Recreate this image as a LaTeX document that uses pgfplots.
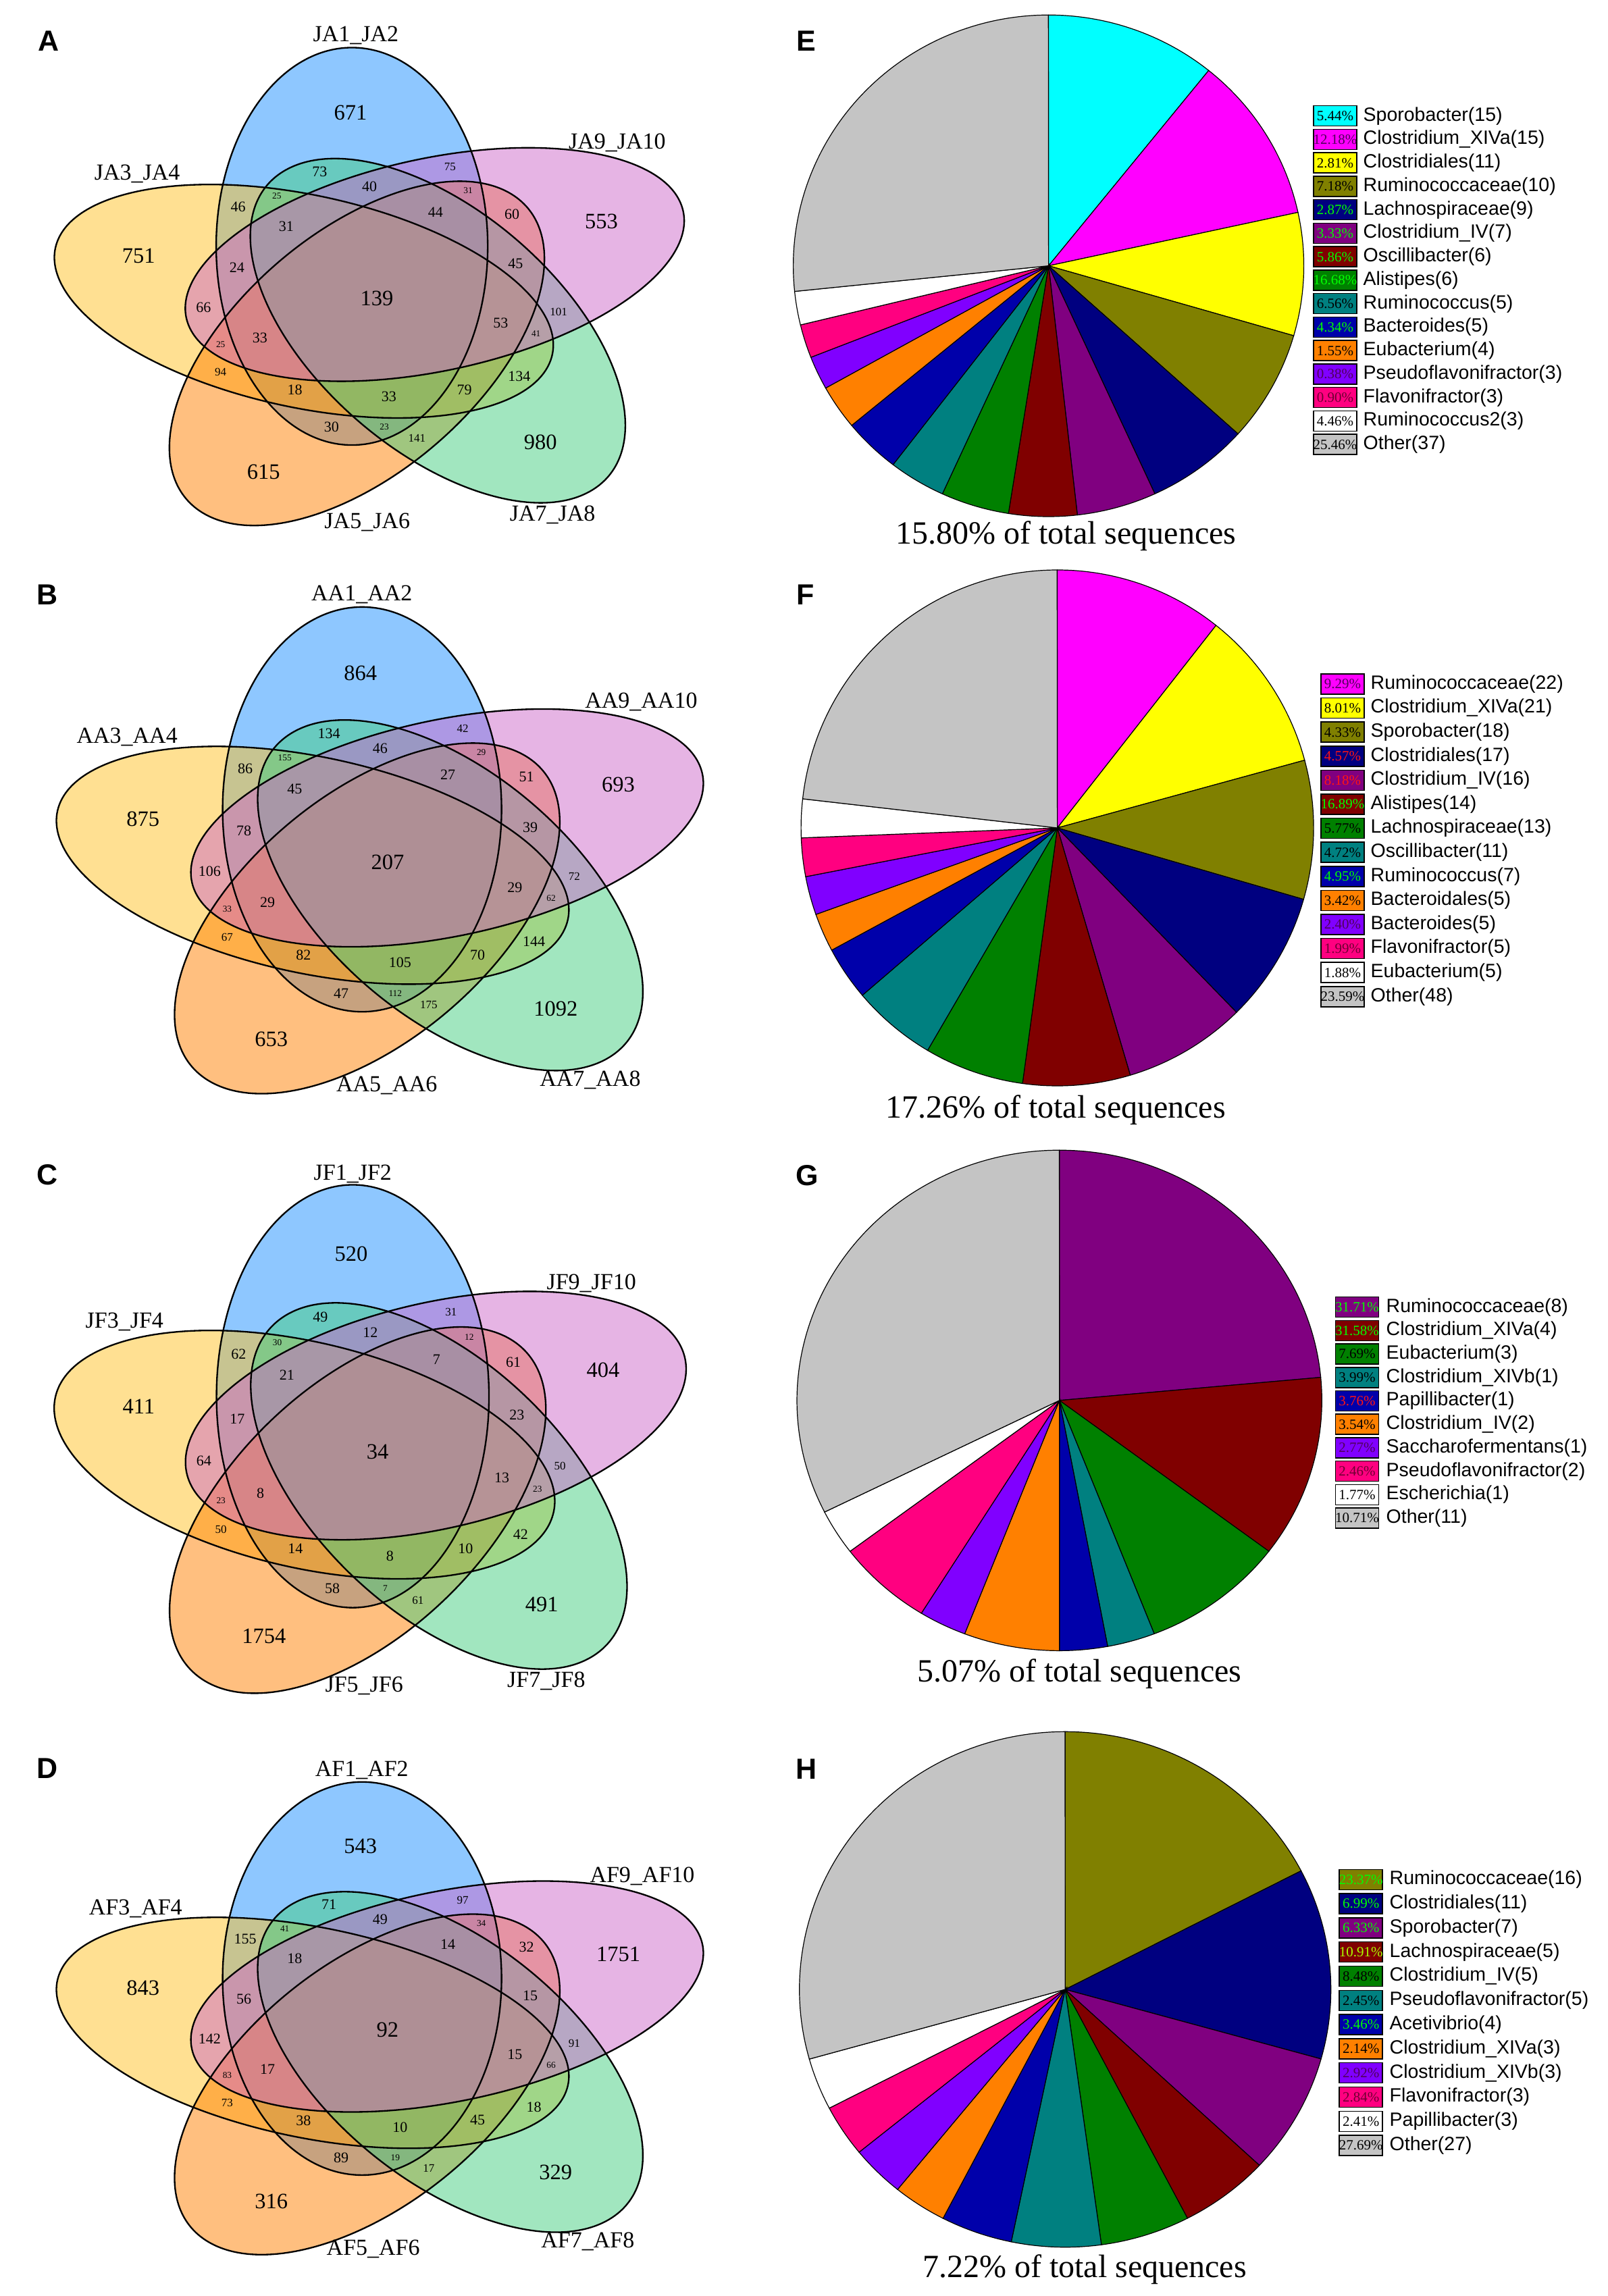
\documentclass[border=0pt]{standalone}
\usepackage{pgfplots}
\usepackage{pgfplotstable}
\pgfplotsset{compat=1.18}
\usepackage{fontspec}
\setmainfont{Liberation Serif}
\newfontfamily\arialfont{Liberation Sans}

\definecolor{vblue}{RGB}{30,144,255}
\definecolor{vyellow}{RGB}{255,193,37}
\definecolor{vorange}{RGB}{255,127,0}
\definecolor{vgreen}{RGB}{67,205,128}
\definecolor{vpink}{RGB}{205,105,201}

\definecolor{pcyan}{RGB}{0,255,255}
\definecolor{pmag}{RGB}{255,0,255}
\definecolor{pyel}{RGB}{255,255,0}
\definecolor{polive}{RGB}{128,128,0}
\definecolor{pnavy}{RGB}{0,0,128}
\definecolor{ppurple}{RGB}{128,0,128}
\definecolor{pmaroon}{RGB}{128,0,0}
\definecolor{pgreen}{RGB}{0,128,0}
\definecolor{pteal}{RGB}{0,128,128}
\definecolor{pblue}{RGB}{0,0,170}
\definecolor{porange}{RGB}{255,128,0}
\definecolor{pviolet}{RGB}{128,0,255}
\definecolor{ppink}{RGB}{255,0,128}
\definecolor{pwhite}{RGB}{255,255,255}
\definecolor{pgray}{RGB}{196,196,196}
\definecolor{tlime}{RGB}{0,255,0}
\definecolor{tred}{RGB}{255,20,20}
\definecolor{tdpur}{RGB}{80,0,90}
\definecolor{tdred}{RGB}{110,0,50}
\definecolor{tyg}{RGB}{170,255,0}
\definecolor{tblack}{RGB}{0,0,0}

% ---------------- Venn region counts (unit positions, font size in pt) ----------------
\pgfplotstableread{
u      v      fs    A    B    C    D
-0.103 -0.939 9.75  671  864  520  543
0.868  -0.390 9.75  553  693  404  1751
0.632  0.719  9.75  980  1092 491  329
-0.439 0.869  9.75  615  653  1754 316
-0.922 -0.219 9.75  751  875  411  843
-0.001 -0.004 9.75  139  207  34   92
-0.222 -0.642 6.6   73   134  49   71
0.282  -0.665 5.1   75   42   31   97
-0.029 -0.567 6.6   40   46   12   49
0.352  -0.547 4.0   31   29   12   34
-0.537 -0.466 6.6   46   86   62   155
-0.388 -0.520 4.0   25   155  30   41
0.226  -0.439 6.6   44   27   7    14
0.522  -0.426 6.6   60   51   61   32
-0.351 -0.367 6.6   31   45   21   18
-0.542 -0.160 6.6   24   78   17   56
0.536  -0.178 6.6   45   39   23   15
-0.671 0.041  6.6   66   106  64   142
0.702  0.065  5.1   101  72   50   91
0.478  0.119  6.6   53   29   13   15
0.615  0.173  4.0   41   62   23   66
-0.605 0.227  4.0   25   33   23   83
-0.453 0.194  6.6   33   29   8    17
-0.605 0.365  5.1   94   67   50   73
0.550  0.388  6.6   134  144  42   18
-0.318 0.455  6.6   18   82   14   38
0.046  0.491  6.6   33   105  8    10
0.338  0.455  6.6   79   70   10   45
-0.176 0.644  6.6   30   47   58   89
0.028  0.644  4.0   23   112  7    19
0.154  0.698  5.1   141  175  61   17
}\vennpos

% ---------------- Pie tables ----------------
\pgfplotstableread{
n  col     tc     pct   name
15 pcyan   tblack 5.44  Sporobacter
15 pmag    tdpur  12.18 Clostridium\_XIVa
11 pyel    tblack 2.81  Clostridiales
10 polive  tblack 7.18  Ruminococcaceae
9  pnavy   tlime  2.87  Lachnospiraceae
7  ppurple tlime  3.33  Clostridium\_IV
6  pmaroon tlime  5.86  Oscillibacter
6  pgreen  tlime  16.68 Alistipes
5  pteal   tblack 6.56  Ruminococcus
5  pblue   tlime  4.34  Bacteroides
4  porange tblack 1.55  Eubacterium
3  pviolet tdpur  0.38  Pseudoflavonifractor
3  ppink   tdred  0.90  Flavonifractor
3  pwhite  tblack 4.46  Ruminococcus2
37 pgray   tblack 25.46 Other
}\pieE
\pgfplotstableread{
n  col     tc     pct   name
22 pmag    tdpur  9.29  Ruminococcaceae
21 pyel    tblack 8.01  Clostridium\_XIVa
18 polive  tblack 4.33  Sporobacter
17 pnavy   tred   4.57  Clostridiales
16 ppurple tred   8.18  Clostridium\_IV
14 pmaroon tlime  16.89 Alistipes
13 pgreen  tblack 5.77  Lachnospiraceae
11 pteal   tblack 4.72  Oscillibacter
7  pblue   tlime  4.95  Ruminococcus
5  porange tblack 3.42  Bacteroidales
5  pviolet tdpur  2.40  Bacteroides
5  ppink   tdred  1.99  Flavonifractor
5  pwhite  tblack 1.88  Eubacterium
48 pgray   tblack 23.59 Other
}\pieF
\pgfplotstableread{
n  col     tc     pct   name
8  ppurple tlime  31.71 Ruminococcaceae
4  pmaroon tlime  31.58 Clostridium\_XIVa
3  pgreen  tblack 7.69  Eubacterium
1  pteal   tblack 3.99  Clostridium\_XIVb
1  pblue   tred   3.76  Papillibacter
2  porange tblack 3.54  Clostridium\_IV
1  pviolet tdpur  2.77  Saccharofermentans
2  ppink   tdred  2.46  Pseudoflavonifractor
1  pwhite  tblack 1.77  Escherichia
11 pgray   tblack 10.71 Other
}\pieG
\pgfplotstableread{
n  col     tc     pct   name
16 polive  tlime  23.37 Ruminococcaceae
11 pnavy   tlime  6.99  Clostridiales
7  ppurple tlime  6.33  Sporobacter
5  pmaroon tyg    10.91 Lachnospiraceae
5  pgreen  tblack 8.48  Clostridium\_IV
5  pteal   tblack 2.45  Pseudoflavonifractor
4  pblue   tlime  3.46  Acetivibrio
3  porange tblack 2.14  Clostridium\_XIVa
3  pviolet tdpur  2.92  Clostridium\_XIVb
3  ppink   tdred  2.84  Flavonifractor
3  pwhite  tblack 2.41  Papillibacter
27 pgray   tblack 27.69 Other
}\pieH

% ---------------- helpers ----------------
\tikzset{
  panelletter/.style={font={\arialfont\bfseries\fontsize{12.9}{13}\selectfont}, inner sep=0pt},
  vlab/.style={font={\fontsize{10.2}{10.2}\selectfont}, inner sep=0pt},
  piecap/.style={font={\fontsize{14.4}{14.4}\selectfont}, inner sep=0pt},
}
\pgfplotsset{
  venn/.style={anchor=south west, hide axis, clip=false, y dir=reverse,
     xmin=-1.4, xmax=1.4, ymin=-1.45, ymax=1.3},
  pie/.style={anchor=south west, hide axis, clip=false, x=0.3pt, y=0.3pt,
     xmin=-420, xmax=840, ymin=-460, ymax=420},
}
\newcommand\vellipse[4]{%
  \path[#4, shift={(axis cs:#1,#2)}, xscale=\XU, yscale=\YU, rotate=-#3]
     (0pt,0pt) ellipse [x radius=0.5252pt, y radius=1pt];}
\newcommand\vennshapes{%
  \vellipse{-0.0971}{-0.2662}{0}{fill=vblue,fill opacity=0.5}%
  \vellipse{-0.28318}{0.01009}{288}{fill=vyellow,fill opacity=0.5}%
  \vellipse{-0.07791}{0.27243}{216}{fill=vorange,fill opacity=0.5}%
  \vellipse{0.23503}{0.15829}{144}{fill=vgreen,fill opacity=0.5}%
  \vellipse{0.22316}{-0.17461}{72}{fill=vpink,fill opacity=0.5}%
  \vellipse{-0.0971}{-0.2662}{0}{draw=black,line width=0.7pt}%
  \vellipse{-0.28318}{0.01009}{288}{draw=black,line width=0.7pt}%
  \vellipse{-0.07791}{0.27243}{216}{draw=black,line width=0.7pt}%
  \vellipse{0.23503}{0.15829}{144}{draw=black,line width=0.7pt}%
  \vellipse{0.22316}{-0.17461}{72}{draw=black,line width=0.7pt}%
}
\newcommand\vennnumbers[1]{%
  \pgfplotsextra{%
    \pgfplotstablegetrowsof{\vennpos}\pgfmathtruncatemacro\lastrow{\pgfplotsretval-1}%
    \foreach \i in {0,...,\lastrow}{%
      \pgfplotstablegetelem{\i}{u}\of{\vennpos}\let\vuu\pgfplotsretval
      \pgfplotstablegetelem{\i}{v}\of{\vennpos}\let\vvv\pgfplotsretval
      \pgfplotstablegetelem{\i}{fs}\of{\vennpos}\let\vfs\pgfplotsretval
      \pgfplotstablegetelem{\i}{#1}\of{\vennpos}\let\vval\pgfplotsretval
      \node[inner sep=0pt, font=\fontsize{\vfs}{\vfs}\selectfont] at (axis cs:\vuu,\vvv) {\vval};
    }}}

\newcommand\drawpie[3]{%
  \pgfplotstablegetrowsof{#1}\pgfmathtruncatemacro\lastrow{\pgfplotsretval-1}%
  \gdef\pietot{0}%
  \foreach \i in {0,...,\lastrow}{%
    \pgfplotstablegetelem{\i}{n}\of{#1}%
    \pgfmathsetmacro\tmp{\pietot+\pgfplotsretval}\xdef\pietot{\tmp}}%
  \gdef\angA{90}%
  \foreach \i in {0,...,\lastrow}{%
    \pgfplotstablegetelem{\i}{n}\of{#1}\let\cnt\pgfplotsretval
    \pgfplotstablegetelem{\i}{col}\of{#1}\let\col\pgfplotsretval
    \pgfmathsetmacro\angB{\angA-\cnt/\pietot*360}%
    \filldraw[fill=\col, draw=black, line width=0.36pt] (axis cs:0,0) --
      (axis cs:{#2*cos(\angA)},{#3*sin(\angA)})
      arc[start angle=\angA, end angle=\angB, x radius=#2*0.3pt, y radius=#3*0.3pt] -- cycle;
    \xdef\angA{\angB}}%
}
\newcommand\drawlegend[5]{%
  \pgfplotstablegetrowsof{#1}\pgfmathtruncatemacro\lastrow{\pgfplotsretval-1}%
  \foreach \i in {0,...,\lastrow}{%
    \pgfplotstablegetelem{\i}{n}\of{#1}\let\cnt\pgfplotsretval
    \pgfplotstablegetelem{\i}{col}\of{#1}\let\col\pgfplotsretval
    \pgfplotstablegetelem{\i}{tc}\of{#1}\let\tcol\pgfplotsretval
    \pgfplotstablegetelem{\i}{pct}\of{#1}\let\pct\pgfplotsretval
    \pgfplotstablegetelem{\i}{name}\of{#1}\let\nm\pgfplotsretval
    \pgfmathsetmacro\yy{#4-#5*\i}%
    \node[fill=\col, draw=black, line width=0.45pt, minimum width=19.2pt, minimum height=9pt, inner sep=0pt] at (axis cs:#2,\yy) {};
    \node[text=\tcol, inner sep=0pt, font=\fontsize{6.3}{6.3}\selectfont] at (axis cs:#2,\yy) {\pct\%};
    \node[anchor=west, inner sep=0pt, font={\arialfont\fontsize{8.55}{8.6}\selectfont}] at (axis cs:#3,\yy) {\nm(\cnt)};
  }%
}

\begin{document}
\begin{tikzpicture}
\useasboundingbox (0pt,0pt) rectangle (714.3pt,-1020pt);

% ---------------- A ----------------
\def\XU{114.84}\def\YU{88.29}
\begin{axis}[venn, x=114.84pt, y=88.29pt, at={(6.714pt,-247.707pt)}]
\vennshapes
\vennnumbers{A}
\node[vlab] at (axis cs:-0.082,-1.326) {JA1\_JA2};
\node[vlab] at (axis cs:0.929,-0.786) {JA9\_JA10};
\node[vlab] at (axis cs:-0.928,-0.630) {JA3\_JA4};
\node[vlab] at (axis cs:-0.038,1.124) {JA5\_JA6};
\node[vlab] at (axis cs:0.679,1.085) {JA7\_JA8};
\node[panelletter] at (axis cs:-1.270,-1.299) {A};
\end{axis}

% ---------------- B ----------------
\def\XU{117.96}\def\YU{89.91}
\begin{axis}[venn, x=117.96pt, y=89.91pt, at={(7.146pt,-500.373pt)}]
\vennshapes
\vennnumbers{B}
\node[vlab] at (axis cs:-0.098,-1.328) {AA1\_AA2};
\node[vlab] at (axis cs:0.954,-0.797) {AA9\_AA10};
\node[vlab] at (axis cs:-0.982,-0.622) {AA3\_AA4};
\node[vlab] at (axis cs:-0.004,1.097) {AA5\_AA6};
\node[vlab] at (axis cs:0.762,1.072) {AA7\_AA8};
\node[panelletter] at (axis cs:-1.282,-1.328) {B};
\end{axis}

% ---------------- C ----------------
\def\XU{115.23}\def\YU{93.93}
\begin{axis}[venn, x=115.23pt, y=93.93pt, at={(6.558pt,-767.379pt)}]
\vennshapes
\vennnumbers{C}
\node[vlab] at (axis cs:-0.097,-1.318) {JF1\_JF2};
\node[vlab] at (axis cs:0.823,-0.801) {JF9\_JF10};
\node[vlab] at (axis cs:-0.977,-0.617) {JF3\_JF4};
\node[vlab] at (axis cs:-0.053,1.104) {JF5\_JF6};
\node[vlab] at (axis cs:0.649,1.082) {JF7\_JF8};
\node[panelletter] at (axis cs:-1.274,-1.313) {C};
\end{axis}

% ---------------- D ----------------
\def\XU{117.96}\def\YU{87.33}
\begin{axis}[venn, x=117.96pt, y=87.33pt, at={(7.146pt,-1015.719pt)}]
\vennshapes
\vennnumbers{D}
\node[vlab] at (axis cs:-0.098,-1.326) {AF1\_AF2};
\node[vlab] at (axis cs:0.958,-0.788) {AF9\_AF10};
\node[vlab] at (axis cs:-0.950,-0.620) {AF3\_AF4};
\node[vlab] at (axis cs:-0.055,1.111) {AF5\_AF6};
\node[vlab] at (axis cs:0.753,1.071) {AF7\_AF8};
\node[panelletter] at (axis cs:-1.282,-1.335) {D};
\end{axis}

% ---------------- E ----------------
\begin{axis}[pie, at={(339.78pt,-256.08pt)}]
\pgfplotsextra{\drawpie{\pieE}{378}{371.4}\drawlegend{\pieE}{424.4}{465.4}{221.9}{34.75}}
\node[panelletter] at (axis cs:-359.2,332.6) {E};
\node[piecap] at (axis cs:26,-400.4) {15.80\% of total sequences};
\end{axis}

% ---------------- F ----------------
\begin{axis}[pie, at={(343.68pt,-505.8pt)}]
\pgfplotsextra{\drawpie{\pieF}{379.5}{382}\drawlegend{\pieF}{422.4}{463.4}{213}{35.6}}
\node[panelletter] at (axis cs:-373.2,345.7) {F};
\node[piecap] at (axis cs:-2.6,-418) {17.26\% of total sequences};
\end{axis}

% ---------------- G ----------------
\begin{axis}[pie, at={(344.61pt,-760.14pt)}]
\pgfplotsextra{\drawpie{\pieG}{388.6}{370.6}\drawlegend{\pieG}{440.8}{483.3}{138.1}{34.7}}
\node[panelletter] at (axis cs:-373.7,333.5) {G};
\node[piecap] at (axis cs:29.9,-405) {5.07\% of total sequences};
\end{axis}

% ---------------- H ----------------
\begin{axis}[pie, at={(347.16pt,-1021.8pt)}]
\pgfplotsextra{\drawpie{\pieH}{393.5}{381.7}\drawlegend{\pieH}{438}{479.8}{162.7}{35.8}}
\node[panelletter] at (axis cs:-383.3,326) {H};
\node[piecap] at (axis cs:28.8,-415) {7.22\% of total sequences};
\end{axis}
\end{tikzpicture}
\end{document}
